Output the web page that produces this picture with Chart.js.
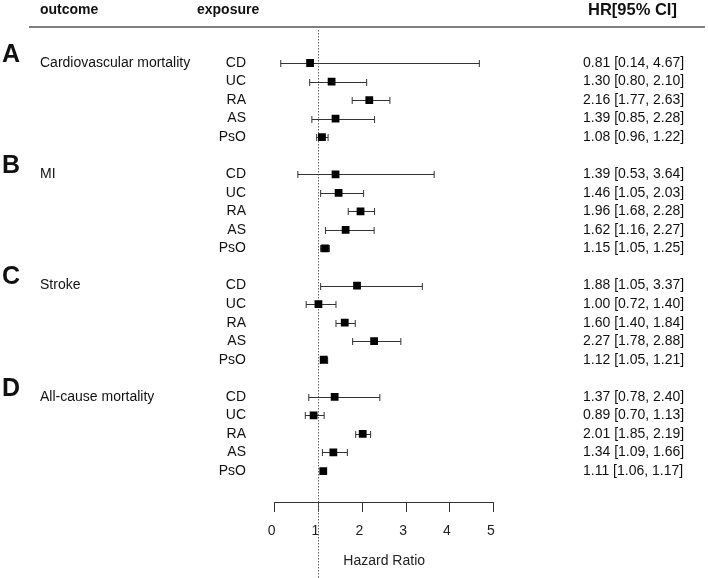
<!DOCTYPE html>
<html>
<head>
<meta charset="utf-8">
<script src="https://cdn.jsdelivr.net/npm/chart.js@4"></script>
<style>
  body { margin: 0; background: #fff; }
  #wrap { width: 708px; height: 578px; }
</style>
</head>
<body>
<div id="wrap"><canvas id="forest" width="708" height="578"></canvas></div>
<script>
// data
const groupLetters = ['A', 'B', 'C', 'D'];
const outcomes = ['Cardiovascular mortality', 'MI', 'Stroke', 'All-cause mortality'];
const exposures = ['CD', 'UC', 'RA', 'AS', 'PsO'];

// hazard ratios, one array per outcome (order = exposures)
const hrCardio = [0.81, 1.30, 2.16, 1.39, 1.08];
const loCardio = [0.14, 0.80, 1.77, 0.85, 0.96];
const hiCardio = [4.67, 2.10, 2.63, 2.28, 1.22];

const hrMI = [1.39, 1.46, 1.96, 1.62, 1.15];
const loMI = [0.53, 1.05, 1.68, 1.16, 1.05];
const hiMI = [3.64, 2.03, 2.28, 2.27, 1.25];

const hrStroke = [1.88, 1.00, 1.60, 2.27, 1.12];
const loStroke = [1.05, 0.72, 1.40, 1.78, 1.05];
const hiStroke = [3.37, 1.40, 1.84, 2.88, 1.21];

const hrAll = [1.37, 0.89, 2.01, 1.34, 1.11];
const loAll = [0.78, 0.70, 1.85, 1.09, 1.06];
const hiAll = [2.40, 1.13, 2.19, 1.66, 1.17];

const xTicks = [0, 1, 2, 3, 4, 5];

const hrGroups = [hrCardio, hrMI, hrStroke, hrAll];
const loGroups = [loCardio, loMI, loStroke, loAll];
const hiGroups = [hiCardio, hiMI, hiStroke, hiAll];

// build rows: each outcome gets 5 rows plus one blank row
const rows = [];
hrGroups.forEach((hrs, g) => {
  hrs.forEach((hr, j) => {
    rows.push({ x: hr, y: g * 6 + j, lo: loGroups[g][j], hi: hiGroups[g][j], g: g, j: j });
  });
});

const FONT = '"Liberation Sans", Arial, sans-serif';
const fmt = v => v.toFixed(2);

// dotted reference line at HR = 1 and CI whiskers
const whiskers = {
  id: 'whiskers',
  beforeDatasetsDraw(chart) {
    const ctx = chart.ctx;
    const xs = chart.scales.x, ys = chart.scales.y;
    ctx.save();
    // reference line
    const x1 = Math.round(xs.getPixelForValue(1)) + 0.5;
    ctx.strokeStyle = '#666';
    ctx.lineWidth = 1;
    ctx.setLineDash([1.5, 1.5]);
    ctx.beginPath();
    ctx.moveTo(x1, 30);
    ctx.lineTo(x1, chart.height);
    ctx.stroke();
    ctx.setLineDash([]);
    // whiskers
    ctx.strokeStyle = '#333';
    rows.forEach(r => {
      const y = Math.round(ys.getPixelForValue(r.y)) + 0.5;
      const a = xs.getPixelForValue(r.lo), b = xs.getPixelForValue(r.hi);
      ctx.beginPath();
      ctx.moveTo(a, y); ctx.lineTo(b, y);
      ctx.moveTo(a, y - 3.5); ctx.lineTo(a, y + 3.5);
      ctx.moveTo(b, y - 3.5); ctx.lineTo(b, y + 3.5);
      ctx.stroke();
    });
    ctx.restore();
  }
};

// header, group letters, row labels and HR text
const tableText = {
  id: 'tableText',
  afterDraw(chart) {
    const ctx = chart.ctx;
    const ys = chart.scales.y;
    ctx.save();
    ctx.fillStyle = '#111';
    ctx.textBaseline = 'middle';

    ctx.font = 'bold 14px ' + FONT;
    ctx.textAlign = 'left';
    ctx.fillText('outcome', 40, 10);
    ctx.fillText('exposure', 197, 10);
    ctx.font = 'bold 16.5px ' + FONT;
    ctx.fillText('HR[95% CI]', 588, 10);

    ctx.strokeStyle = '#555';
    ctx.lineWidth = 1.5;
    ctx.beginPath();
    ctx.moveTo(29, 27);
    ctx.lineTo(705, 27);
    ctx.stroke();

    outcomes.forEach((name, g) => {
      const y0 = ys.getPixelForValue(g * 6);
      ctx.font = 'bold 25px ' + FONT;
      ctx.textAlign = 'left';
      ctx.fillText(groupLetters[g], 2, y0 - 8);
      ctx.font = '14px ' + FONT;
      ctx.fillText(name, 40, y0);
    });

    rows.forEach(r => {
      const y = ys.getPixelForValue(r.y);
      ctx.font = '14px ' + FONT;
      ctx.textAlign = 'right';
      ctx.fillText(exposures[r.j], 246, y);
      ctx.textAlign = 'left';
      ctx.fillText(fmt(r.x) + ' [' + fmt(r.lo) + ', ' + fmt(r.hi) + ']', 583, y);
    });
    ctx.restore();
  }
};

const ctx = document.getElementById('forest').getContext('2d');
new Chart(ctx, {
  type: 'scatter',
  data: {
    datasets: [{
      data: rows,
      pointStyle: 'rect',
      pointRadius: 5.5,
      pointHoverRadius: 5.5,
      backgroundColor: '#000',
      borderColor: '#000',
      borderWidth: 0
    }]
  },
  options: {
    responsive: false,
    animation: false,
    layout: { padding: { left: 274.6, right: 214.2, top: 44.45, bottom: 4.6 } },
    plugins: { legend: { display: false }, tooltip: { enabled: false } },
    scales: {
      x: {
        type: 'linear',
        min: 0,
        max: 5,
        afterBuildTicks: axis => { axis.ticks = xTicks.map(v => ({ value: v })); },
        grid: { drawOnChartArea: false, drawTicks: true, tickLength: 10, color: '#333' },
        border: { display: true, color: '#333', width: 1 },
        ticks: { color: '#222', font: { family: FONT, size: 14 }, padding: 11, labelOffset: -3 },
        title: {
          display: true,
          text: 'Hazard Ratio',
          color: '#222',
          font: { family: FONT, size: 14 },
          padding: { top: 2, bottom: 3.8 }
        }
      },
      y: {
        type: 'linear',
        reverse: true,
        min: -1,
        max: 23.67,
        display: false
      }
    }
  },
  plugins: [whiskers, tableText]
});
</script>
</body>
</html>
